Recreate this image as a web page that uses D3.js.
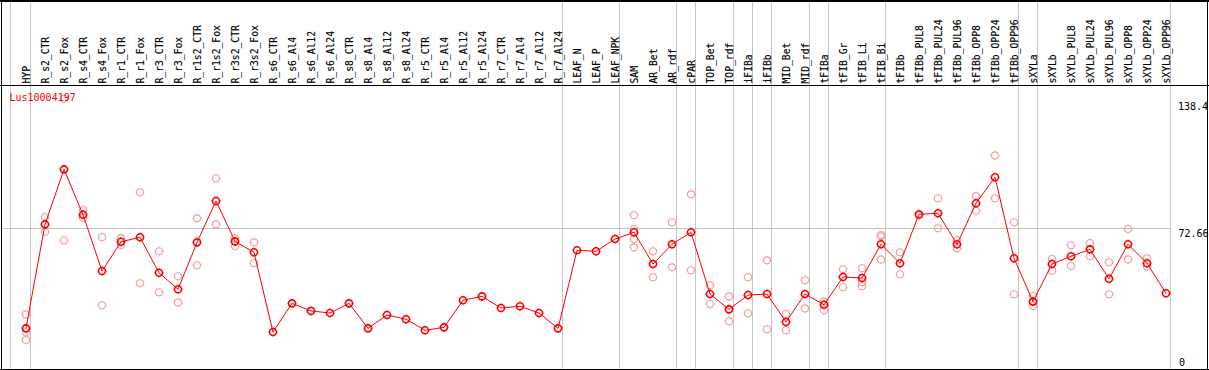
<!DOCTYPE html>
<html>
<head>
<meta charset="utf-8">
<script src="https://cdn.jsdelivr.net/npm/d3@7"></script>
<style>
  html, body { margin: 0; padding: 0; background: #fff; }
  svg { display: block; }
  text { font-family: "DejaVu Sans Mono", monospace; font-size: 10px; }
  .cat { font-size: 9.7px; stroke: #000; stroke-width: 0.15px; }
</style>
</head>
<body>
<div id="chart"></div>
<script>
const geneName = "Lus10004197";

const categories = [
  "HYP","R_s2_CTR","R_s2_Fox","R_s4_CTR","R_s4_Fox","R_r1_CTR","R_r1_Fox","R_r3_CTR","R_r3_Fox",
  "R_r1s2_CTR","R_r1s2_Fox","R_r3s2_CTR","R_r3s2_Fox","R_s6_CTR","R_s6_Al4","R_s6_Al12","R_s6_Al24",
  "R_s8_CTR","R_s8_Al4","R_s8_Al12","R_s8_Al24","R_r5_CTR","R_r5_Al4","R_r5_Al12","R_r5_Al24",
  "R_r7_CTR","R_r7_Al4","R_r7_Al12","R_r7_Al24","LEAF_N","LEAF_P","LEAF_NPK","SAM","AR_Bet","AR_rdf",
  "cPAR","TOP_Bet","TOP_rdf","iFIBa","iFIBb","MID_Bet","MID_rdf","tFIBa","tFIB_Gr","tFIB_Li","tFIB_Bi",
  "tFIBb","tFIBb_PUL8","tFIBb_PUL24","tFIBb_PUL96","tFIBb_OPP8","tFIBb_OPP24","tFIBb_OPP96",
  "sXYLa","sXYLb","sXYLb_PUL8","sXYLb_PUL24","sXYLb_PUL96","sXYLb_OPP8","sXYLb_OPP24","sXYLb_OPP96"
];

const meanValues = [
  21.0, 74.7, 103.1, 79.7, 50.6, 65.7, 68.0, 49.7, 41.2,
  65.4, 86.8, 65.9, 60.3, 19.1, 33.9, 30.0, 28.9,
  33.9, 21.0, 27.9, 25.7, 20.0, 21.5, 35.5, 37.5,
  31.5, 32.4, 28.9, 21.0, 61.3, 60.8, 67.1, 70.6, 54.2, 64.4,
  70.6, 38.7, 30.8, 38.2, 38.7, 24.3, 38.7, 33.2, 47.5, 47.0, 64.4,
  54.6, 79.9, 80.4, 64.4, 85.6, 99.0, 57.2,
  34.8, 54.2, 58.2, 61.8, 46.6, 64.4, 54.6, 39.1
];

const replicateValues = [
  [28.2, 19.0, 15.0], [78.5, 70.9], [66.5, 139.6], [82.1, 78.1], [68.0, 32.9], [67.6, 64.0],
  [91.3, 44.3], [60.8, 39.6], [47.9, 34.4], [77.8, 53.6], [98.5, 74.7], [67.6, 63.5], [65.4, 54.6],
  [], [], [], [], [], [], [], [], [], [], [], [], [], [], [], [],
  [], [], [], [79.4, 72.3, 67.0, 62.8], [60.8, 47.4], [75.8, 52.5],
  [90.2, 51.0], [43.2, 33.6], [37.5, 24.6], [47.4, 28.8], [56.1, 20.5], [28.4, 20.0], [45.8, 31.3],
  [34.8, 30.5], [51.5, 42.2], [52.0, 44.8, 42.7], [69.2, 68.5, 56.6],
  [60.3, 48.9], [79.2], [88.2, 72.7], [66.6, 62.3], [89.3, 81.7], [110.3, 88.2], [75.8, 38.6],
  [37.7, 32.5], [56.8, 50.8], [63.9, 53.2], [65.1, 58.2], [55.1, 38.6], [72.3, 56.6], [57.2, 52.8], []
];

const groupEnds = ["HYP","R_r7_Al24","LEAF_NPK","AR_rdf","cPAR","TOP_rdf","iFIBa","iFIBb",
                   "MID_rdf","tFIBa","tFIB_Bi","tFIBb_OPP96","sXYLa","sXYLb_OPP96"];

const yMax = 138.4;
const yMid = 72.66;

const W = 1209, H = 370;
const headerBottom = 85;
const plotBottom = 369;

const svg = d3.select("#chart").append("svg").attr("width", W).attr("height", H);

const x = d3.scalePoint().domain(categories).range([26, 1166]);
const y = d3.scaleLinear().domain([0, yMax]).range([plotBottom, 101]);
const gridRight = x(categories[categories.length - 1]) + 4.7;

// vertical grid lines (group separators)
const vlines = [x(categories[0]) - 15.3].concat(groupEnds.map(c => x(c) + 4.7));
svg.append("g").selectAll("line").data(vlines).join("line")
  .attr("x1", d => d).attr("x2", d => d)
  .attr("y1", 0).attr("y2", plotBottom)
  .attr("stroke", "#c4c4c4").attr("stroke-width", 1).attr("shape-rendering", "crispEdges");

// horizontal grid line at mid value
svg.append("line")
  .attr("x1", 2).attr("x2", gridRight)
  .attr("y1", Math.round(y(yMid)) + 0.5).attr("y2", Math.round(y(yMid)) + 0.5)
  .attr("stroke", "#c4c4c4").attr("stroke-width", 1);

// frame
const frame = svg.append("g").attr("stroke", "#000").attr("shape-rendering", "crispEdges");
frame.append("line").attr("x1", 0).attr("x2", W).attr("y1", 0.5).attr("y2", 0.5).attr("stroke-width", 2);
frame.append("line").attr("x1", 0).attr("x2", W).attr("y1", headerBottom + 0.5).attr("y2", headerBottom + 0.5);
frame.append("line").attr("x1", 0).attr("x2", W).attr("y1", plotBottom + 0.5).attr("y2", plotBottom + 0.5);
frame.append("line").attr("x1", 1.5).attr("x2", 1.5).attr("y1", 0).attr("y2", H);
frame.append("line").attr("x1", W - 1.5).attr("x2", W - 1.5).attr("y1", 0).attr("y2", H);

// category labels (rotated)
svg.append("g").selectAll("text").data(categories).join("text")
  .attr("class", "cat")
  .attr("transform", d => `translate(${x(d)},83.5) rotate(-90)`)
  .attr("dy", "0.45em")
  .attr("text-anchor", "start")
  .attr("fill", "#000")
  .text(d => d);

// right axis labels
const yAxisG = svg.append("g");
yAxisG.append("text").attr("x", 1178).attr("y", y(yMax)).attr("dy", "0.85em").text(String(yMax));
yAxisG.append("text").attr("x", 1178.5).attr("y", y(yMid)).attr("dy", "0.85em").text(yMid.toFixed(2));
yAxisG.append("text").attr("x", 1179).attr("y", y(0)).attr("dy", "-0.35em").text("0");

// marker path: circle with small ticks
function markerPath(r) {
  const t = 1;
  return `M${-r},0A${r},${r} 0 1,0 ${r},0A${r},${r} 0 1,0 ${-r},0` +
    `M0,${-r}V${-r - t}M0,${r}V${r + t}M${-r},0H${-r - t}M${r},0H${r + t}`;
}

// replicate points
const reps = [];
replicateValues.forEach((arr, i) => arr.forEach(v => reps.push({ c: categories[i], v })));
svg.append("g").selectAll("path").data(reps).join("path")
  .attr("transform", d => `translate(${x(d.c)},${y(d.v)})`)
  .attr("d", markerPath(3.5))
  .attr("fill", "none")
  .attr("stroke", "#f0a0a0")
  .attr("stroke-width", 1.1);

// mean line
const line = d3.line().x((d, i) => x(categories[i])).y(d => y(d));
svg.append("path").datum(meanValues)
  .attr("d", line).attr("fill", "none").attr("stroke", "#ff0000").attr("stroke-width", 1);

// mean markers
svg.append("g").selectAll("path").data(meanValues).join("path")
  .attr("transform", (d, i) => `translate(${x(categories[i])},${y(d)})`)
  .attr("d", markerPath(3.5))
  .attr("fill", "none")
  .attr("stroke", "#ff0000")
  .attr("stroke-width", 1.6);

// gene name
svg.append("text").attr("x", 9.5).attr("y", 97).attr("dy", "0.35em")
  .attr("fill", "#ff0000").text(geneName);
</script>
</body>
</html>
